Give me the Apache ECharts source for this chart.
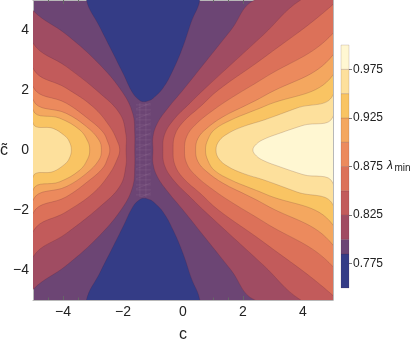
<!DOCTYPE html>
<html>
<head>
<meta charset="utf-8">
<script src="https://cdn.jsdelivr.net/npm/echarts@6/dist/echarts.min.js"></script>
<style>
  html, body { margin: 0; padding: 0; background: #fff; }
  #chart { width: 411px; height: 339px; }
</style>
</head>
<body>
<div id="chart"></div>
<script>
// contour levels of lambda_min (band edges, as on the colour bar)
const levels = [0.75, 0.785, 0.8, 0.825, 0.85, 0.875, 0.9, 0.925, 0.95, 0.975, 1.0]
const bandColors = ['#343c86', '#6c4574', '#a04c62', '#c25b5b', '#dc7159',
  '#ec8a5d', '#f4a75f', '#f9c463', '#fde09c', '#fff7d2']

// upper half of each contour (c, c~), the plot is symmetric in c~
// lowest band: blue tongue coming in from the top (and bottom) edge
const blueEdge = [[-3.22, 5], [-2.78, 4.11], [-2.33, 3.22], [-2.0, 2.56], [-1.67, 1.89],
  [-1.45, 1.66], [-1.3, 1.61], [-1.1, 1.66], [-1.0, 1.72], [-0.67, 2.06], [-0.33, 2.67],
  [0, 3.45], [0.28, 4.28], [0.56, 5]]

// left side contours, nose -> left edge; index 0 is the 0.8 line
const leftContours = [
  [[-1.61, 0], [-1.61, 0.55], [-1.67, 1.2], [-2.0, 1.9], [-2.78, 2.85], [-3.89, 3.85], [-5, 4.65]],
  [[-1.9, 0], [-1.9, 0.5], [-2.1, 1.2], [-2.78, 1.9], [-3.89, 2.78], [-5, 3.56]],
  [[-2.11, 0], [-2.17, 0.25], [-2.44, 0.78], [-3.0, 1.44], [-3.89, 2.06], [-5, 2.72]],
  [[-2.44, 0], [-2.52, 0.3], [-2.67, 0.6], [-3.11, 1.0], [-3.89, 1.56], [-5, 2.11]],
  [[-2.72, 0], [-2.8, 0.33], [-3.22, 0.78], [-3.89, 1.22], [-5, 1.67]],
  [[-3.11, 0], [-3.17, 0.28], [-3.44, 0.67], [-4.11, 1.06], [-5, 1.33]],
  [[-3.72, 0], [-3.8, 0.3], [-3.95, 0.48], [-4.33, 0.72], [-5, 0.89]]
]

// right side contours, nose -> top / right edge; index 0 is the 0.8 line
const rightContours = [
  [[-1.0, 0], [-1.0, 0.45], [-0.85, 0.9], [-0.5, 1.4], [0, 2.0], [0.8, 3.0], [1.6, 4.0], [2.39, 5]],
  [[-0.67, 0], [-0.62, 0.5], [-0.32, 1.0], [0.23, 1.56], [0.68, 2.0], [2.67, 3.83], [3.92, 5]],
  [[-0.33, 0], [-0.27, 0.5], [0.01, 0.94], [0.57, 1.44], [1.18, 2.0], [2.67, 3.06], [5, 4.85]],
  [[0.05, 0], [0.12, 0.44], [0.4, 0.83], [1.01, 1.33], [1.68, 1.78], [2.67, 2.38], [5, 3.89]],
  [[0.42, 0], [0.5, 0.39], [0.79, 0.72], [1.34, 1.11], [2.12, 1.5], [2.7, 1.8], [5, 3.17]],
  [[0.75, 0], [0.83, 0.35], [1.05, 0.68], [1.6, 1.0], [2.2, 1.25], [2.7, 1.45], [5, 2.5]],
  [[1.1, 0], [1.2, 0.3], [1.5, 0.55], [2.0, 0.78], [2.7, 1.0], [3.8, 1.4], [5, 1.83]],
  [[2.33, 0], [2.45, 0.2], [2.7, 0.36], [3.2, 0.55], [4.0, 0.82], [5, 1.11]]
]

// faint mesh left in the narrow waist between the two blue tongues
const meshBox = [[-1.57, -1.57], [-1.07, 1.57]]

const majorTicks = [-4, -2, 0, 2, 4]
const minorTicks = [-4.5, -3.5, -3, -2.5, -1.5, -1, -0.5, 0.5, 1, 1.5, 2.5, 3, 3.5, 4.5]
const barTicks = [0.775, 0.825, 0.875, 0.925, 0.975]

const font = "'Liberation Sans', Arial, sans-serif"
const fmt = v => (v < 0 ? '\u2212' + (-v) : String(v))

// build the filled regions, drawn back to front
const regions = []
const blueClosed = blueEdge.concat([[0.56, 6], [-3.22, 6]])
regions.push({ pts: blueClosed, color: bandColors[0] })
regions.push({ pts: blueClosed.map(p => [p[0], -p[1]]), color: bandColors[0] })

const sideRegion = (curve, side) => {
  const upper = curve.slice().reverse()
  const lower = curve.slice(1).map(p => [p[0], -p[1]])
  return upper.concat(lower, [[side * 6, -6], [side * 6, 6]])
}
leftContours.forEach((c, i) => regions.push({ pts: sideRegion(c, -1), color: bandColors[i + 2] }))
rightContours.forEach((c, i) => regions.push({ pts: sideRegion(c, 1), color: bandColors[i + 2] }))

const tickAxis = (pos, gridIndex, values, len, line) => ({
  gridIndex, type: 'value', min: -5, max: 5, position: pos,
  axisLine: { show: line, onZero: false, lineStyle: { color: '#b8b8b8', width: 1 } },
  axisTick: { show: true, inside: true, length: len, customValues: values, lineStyle: { color: '#666' } },
  axisLabel: { show: false },
  splitLine: { show: false }
})

const chart = echarts.init(document.getElementById('chart'))

const xMain = tickAxis('bottom', 0, majorTicks, 4, true)
xMain.axisLabel = { show: true, customValues: majorTicks, formatter: fmt, fontSize: 14, color: '#222', fontFamily: font, margin: 5 }
xMain.name = 'c'
xMain.nameLocation = 'middle'
xMain.nameGap = 27
xMain.nameTextStyle = { fontSize: 16, color: '#222', fontFamily: font }

const yMain = tickAxis('left', 0, majorTicks, 4, true)
yMain.axisLabel = { show: true, customValues: majorTicks, formatter: fmt, fontSize: 14, color: '#222', fontFamily: font, margin: 4 }

chart.setOption({
  animation: false,
  grid: [
    { left: 33, top: 0, width: 300, height: 300, show: true, backgroundColor: bandColors[1], borderWidth: 0, outerBoundsMode: 'none' },
    { left: 341, top: 45, width: 8, height: 243, outerBoundsMode: 'none' }
  ],
  xAxis: [
    xMain,
    tickAxis('top', 0, majorTicks, 4, true),
    tickAxis('bottom', 0, minorTicks, 2.5, false),
    tickAxis('top', 0, minorTicks, 2.5, false),
    { gridIndex: 1, type: 'value', min: 0, max: 1, show: false }
  ],
  yAxis: [
    yMain,
    tickAxis('right', 0, majorTicks, 4, true),
    tickAxis('left', 0, minorTicks, 2.5, false),
    tickAxis('right', 0, minorTicks, 2.5, false),
    {
      gridIndex: 1, type: 'value', min: 0.75, max: 1.0, position: 'right',
      axisLine: { show: false, onZero: false },
      axisTick: { show: true, inside: false, length: 3, customValues: barTicks, lineStyle: { color: '#777' } },
      axisLabel: { customValues: barTicks, formatter: v => v.toFixed(3), fontSize: 12, color: '#222', fontFamily: font, margin: 4 },
      splitLine: { show: false }
    }
  ],
  graphic: [
    { type: 'text', left: 0, top: 143, style: { text: 'c\u0303', font: '16px ' + font, fill: '#222' } },
    { type: 'text', x: 387, y: 166, style: { text: '\u03bb', font: 'italic 12px ' + font, fill: '#222', verticalAlign: 'middle' } },
    { type: 'text', x: 394.5, y: 168, style: { text: 'min', font: '10px ' + font, fill: '#222', verticalAlign: 'middle' } }
  ],
  series: [
    {
      type: 'custom',
      xAxisIndex: 0,
      yAxisIndex: 0,
      data: regions.map((r, i) => i),
      renderItem: (params, api) => {
        const r = regions[params.dataIndex]
        const cs = params.coordSys
        return {
          type: 'group',
          clipPath: { type: 'rect', shape: { x: cs.x, y: cs.y, width: cs.width, height: cs.height } },
          children: [{
            type: 'polygon',
            shape: { points: r.pts.map(p => api.coord(p)), smooth: 0.4 },
            style: { fill: r.color, stroke: 'rgba(70,30,50,0.3)', lineWidth: 0.6 }
          }]
        }
      }
    },
    {
      type: 'custom',
      xAxisIndex: 0,
      yAxisIndex: 0,
      data: [0],
      renderItem: (params, api) => {
        const a = api.coord([meshBox[0][0], meshBox[1][1]])
        const b = api.coord([meshBox[1][0], meshBox[0][1]])
        const w = b[0] - a[0]
        const h = b[1] - a[1]
        const kids = []
        const st = { stroke: 'rgba(255,225,235,0.13)', lineWidth: 0.6 }
        for (let y = 2; y < h; y += 5) kids.push({ type: 'line', shape: { x1: a[0], y1: a[1] + y, x2: b[0], y2: a[1] + y }, style: st })
        for (let x = 4; x < w; x += 6) kids.push({ type: 'line', shape: { x1: a[0] + x, y1: a[1], x2: a[0] + x, y2: b[1] }, style: st })
        for (let y = 0; y < h; y += 10) kids.push({ type: 'line', shape: { x1: a[0], y1: a[1] + y + 6, x2: b[0], y2: a[1] + y }, style: st })
        return {
          type: 'group',
          clipPath: { type: 'rect', shape: { x: a[0], y: a[1], width: w, height: h } },
          children: kids
        }
      }
    },
    {
      type: 'custom',
      xAxisIndex: 4,
      yAxisIndex: 4,
      data: bandColors.map((c, i) => i),
      renderItem: (params, api) => {
        const i = params.dataIndex
        const a = api.coord([0, levels[i + 1]])
        const b = api.coord([1, levels[i]])
        return {
          type: 'rect',
          shape: { x: a[0], y: a[1], width: b[0] - a[0], height: b[1] - a[1] },
          style: { fill: bandColors[i], stroke: 'rgba(70,30,50,0.3)', lineWidth: 0.5 }
        }
      }
    }
  ]
})
</script>
</body>
</html>
